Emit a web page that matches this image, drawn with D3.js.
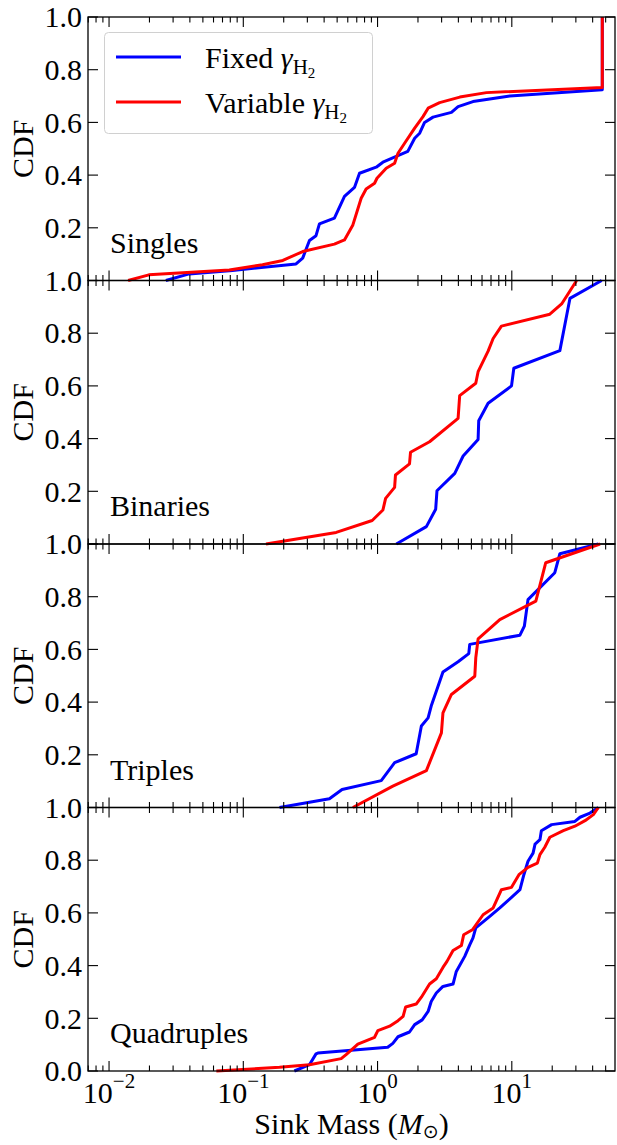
<!DOCTYPE html>
<html>
<head>
<meta charset="utf-8">
<script src="https://cdn.jsdelivr.net/npm/d3@7"></script>
<style>
  body { margin: 0; background: #fff; }
  text { font-family: "Liberation Serif", "Times New Roman", serif; fill: #000; }
</style>
</head>
<body>
<div id="chart"></div>
<script>
// panel names
const panelNames = ["Singles", "Binaries", "Triples", "Quadruples"];

// [sink mass (Msun), CDF]
const singlesFixed = [[0.0265,0],[0.0395,0.025],[0.083,0.038],[0.247,0.063],[0.277,0.085],[0.311,0.152],[0.348,0.17],[0.369,0.215],[0.477,0.237],[0.567,0.319],[0.673,0.353],[0.734,0.407],[0.977,0.43],[1.096,0.449],[1.68,0.49],[1.89,0.54],[2.06,0.559],[2.24,0.6],[2.59,0.62],[3.55,0.638],[3.98,0.66],[5.14,0.679],[9.66,0.70],[47.2,0.724],[47.2,1.0]];
const singlesVar = [[0.01387,0],[0.0198,0.0215],[0.0787,0.04],[0.139,0.06],[0.197,0.076],[0.277,0.11],[0.477,0.138],[0.567,0.154],[0.655,0.211],[0.755,0.312],[0.822,0.347],[0.95,0.369],[0.99,0.388],[1.16,0.426],[1.34,0.445],[1.42,0.483],[1.59,0.521],[1.89,0.578],[2.18,0.622],[2.38,0.654],[2.9,0.675],[4.1,0.696],[6.47,0.713],[47.2,0.732],[47.2,1.0]];

const binariesFixed = [[1.38,0],[2.31,0.066],[2.71,0.132],[2.77,0.202],[3.76,0.268],[4.34,0.334],[5.61,0.397],[5.67,0.468],[6.66,0.534],[9.95,0.6],[10.35,0.667],[22.8,0.734],[27.1,0.932],[46.7,1.0]];
const binariesVar = [[0.1476,0],[0.492,0.044],[0.912,0.089],[1.096,0.129],[1.148,0.173],[1.34,0.215],[1.36,0.262],[1.73,0.304],[1.76,0.348],[2.44,0.388],[3.98,0.477],[4.09,0.563],[5.39,0.61],[5.61,0.654],[6.66,0.732],[7.26,0.78],[8.37,0.827],[19.2,0.872],[23.5,0.911],[30.4,1.0]];

const triplesFixed = [[0.186,0],[0.438,0.033],[0.544,0.068],[1.065,0.102],[1.34,0.17],[1.94,0.204],[2.12,0.309],[2.38,0.34],[2.51,0.385],[3.07,0.514],[3.98,0.553],[4.78,0.584],[4.86,0.619],[11.5,0.654],[12.4,0.688],[13.2,0.789],[20.9,0.891],[22.8,0.963],[44.1,1.0]];
const triplesVar = [[0.655,0],[1.30,0.081],[2.31,0.14],[2.99,0.283],[3.07,0.359],[3.55,0.429],[5.3,0.498],[5.39,0.568],[5.61,0.64],[8.14,0.713],[15.1,0.783],[17.9,0.929],[45.4,1.0]];

const quadsFixed = [[0.24,0],[0.311,0.024],[0.348,0.065],[0.359,0.068],[1.19,0.09],[1.30,0.105],[1.42,0.13],[1.73,0.148],[1.89,0.176],[2.15,0.194],[2.38,0.226],[2.51,0.264],[2.74,0.296],[3.07,0.321],[3.65,0.33],[3.86,0.378],[4.46,0.435],[4.86,0.479],[5.14,0.505],[5.39,0.543],[6.85,0.587],[8.14,0.619],[9.95,0.659],[11.5,0.688],[12.3,0.745],[13.2,0.796],[14.4,0.827],[14.9,0.861],[16.2,0.878],[16.6,0.912],[19.8,0.935],[29.5,0.947],[32.2,0.963],[38.2,0.979],[44.1,1.0]];
const quadsVar = [[0.063,0],[0.186,0.014],[0.311,0.024],[0.536,0.047],[0.583,0.062],[0.655,0.085],[0.713,0.102],[0.95,0.128],[1.005,0.153],[1.23,0.17],[1.42,0.191],[1.55,0.207],[1.62,0.243],[1.94,0.254],[2.12,0.28],[2.44,0.33],[2.74,0.35],[3.07,0.393],[3.29,0.416],[3.65,0.457],[4.21,0.476],[4.38,0.517],[5.09,0.536],[6.11,0.593],[7.26,0.619],[8.37,0.688],[9.95,0.697],[11.3,0.745],[13.2,0.773],[15.5,0.789],[16.2,0.821],[17.6,0.849],[19.2,0.887],[24.2,0.912],[29.5,0.929],[35.1,0.95],[40.5,0.973],[44.1,1.0]];

const fixedSeries = [singlesFixed, binariesFixed, triplesFixed, quadsFixed];
const varSeries = [singlesVar, binariesVar, triplesVar, quadsVar];

const xTickValues = [0.01, 0.1, 1, 10];
const xTickExps = ["\u22122", "\u22121", "0", "1"];
const yTickValues = [0, 0.2, 0.4, 0.6, 0.8, 1.0];

const width = 617, height = 1145;
const left = 88, right = 615, top0 = 17, panelH = 263.5;
const fixedColor = "#0000ff", varColor = "#ff0000";

const svg = d3.select("#chart").append("svg")
  .attr("width", width).attr("height", height);

const x = d3.scaleLog().domain([0.00697, 58.7]).range([left, right]);

// minor ticks for log axis
const minor = [];
for (let e = -3; e <= 1; e++) {
  for (let k = 2; k <= 9; k++) {
    const v = k * Math.pow(10, e);
    if (v >= x.domain()[0] && v <= x.domain()[1]) minor.push(v);
  }
}

const line = d3.line();

panelNames.forEach((name, i) => {
  const t = top0 + i * panelH, b = t + panelH;
  const y = d3.scaleLinear().domain([0, 1]).range([b, t]);
  const g = svg.append("g");

  line.x(d => x(d[0])).y(d => y(d[1]));

  g.append("path").datum(fixedSeries[i])
    .attr("d", line).attr("fill", "none")
    .attr("stroke", fixedColor).attr("stroke-width", 3).attr("stroke-linejoin", "round");
  g.append("path").datum(varSeries[i])
    .attr("d", line).attr("fill", "none")
    .attr("stroke", varColor).attr("stroke-width", 3).attr("stroke-linejoin", "round");

  // frame
  g.append("rect").attr("x", left).attr("y", t)
    .attr("width", right - left).attr("height", panelH)
    .attr("fill", "none").attr("stroke", "#000").attr("stroke-width", 1.3);

  const ticks = g.append("g").attr("stroke", "#000").attr("stroke-width", 1.1);
  // x ticks, inward on bottom and top
  [[xTickValues, 10], [minor, 5.5]].forEach(([vals, len]) => {
    ticks.selectAll(null).data(vals).join("line")
      .attr("x1", d => x(d)).attr("x2", d => x(d))
      .attr("y1", b).attr("y2", b - len);
    ticks.selectAll(null).data(vals).join("line")
      .attr("x1", d => x(d)).attr("x2", d => x(d))
      .attr("y1", t).attr("y2", t + len);
  });
  // y ticks, inward on left and right
  ticks.selectAll(null).data(yTickValues).join("line")
    .attr("x1", left).attr("x2", left + 10)
    .attr("y1", d => y(d)).attr("y2", d => y(d));
  ticks.selectAll(null).data(yTickValues).join("line")
    .attr("x1", right).attr("x2", right - 10)
    .attr("y1", d => y(d)).attr("y2", d => y(d));

  // y tick labels (0.0 only on the last panel)
  const labVals = i === panelNames.length - 1 ? yTickValues : yTickValues.slice(1);
  g.selectAll(null).data(labVals).join("text")
    .attr("x", left - 6).attr("y", d => y(d)).attr("dy", "0.34em")
    .attr("text-anchor", "end").attr("font-size", 30)
    .text(d => d.toFixed(1));

  g.append("text")
    .attr("transform", `translate(33,${(t + b) / 2}) rotate(-90)`)
    .attr("text-anchor", "middle").attr("font-size", 30)
    .text("CDF");

  g.append("text")
    .attr("x", 110).attr("y", b - 28).attr("font-size", 30)
    .text(name);
});

// x tick labels on bottom panel
const xl = svg.append("g");
xTickValues.forEach((v, i) => {
  const tx = xl.append("text")
    .attr("x", x(v)).attr("y", 1103)
    .attr("text-anchor", "middle").attr("font-size", 30);
  tx.append("tspan").text("10");
  tx.append("tspan").attr("font-size", 21).attr("dy", -15).text(xTickExps[i]);
});

// x axis label
const xlab = svg.append("text")
  .attr("x", (left + right) / 2).attr("y", 1134)
  .attr("text-anchor", "middle").attr("font-size", 30);
xlab.append("tspan").text("Sink Mass (");
xlab.append("tspan").attr("font-style", "italic").text("M");
xlab.append("tspan").attr("font-size", 19).attr("dy", 4)
  .attr("font-family", "DejaVu Sans").text("\u2299");
xlab.append("tspan").attr("dy", -4).text(")");

// legend
const leg = svg.append("g");
leg.append("rect")
  .attr("x", 104.5).attr("y", 32.5).attr("width", 268).attr("height", 101)
  .attr("rx", 4).attr("fill", "#fff").attr("fill-opacity", 0.8)
  .attr("stroke", "#d0d0d0").attr("stroke-width", 1);
[["Fixed", fixedColor, 57], ["Variable", varColor, 102]].forEach(([lab, col, ly]) => {
  leg.append("line").attr("x1", 116).attr("x2", 181)
    .attr("y1", ly).attr("y2", ly)
    .attr("stroke", col).attr("stroke-width", 3);
  const tx = leg.append("text").attr("x", 205).attr("y", ly + 11).attr("font-size", 30);
  tx.append("tspan").text(lab + " ");
  tx.append("tspan").attr("font-style", "italic").text("\u03b3");
  tx.append("tspan").attr("font-size", 21).attr("dy", 6).text("H");
  tx.append("tspan").attr("font-size", 15).attr("dy", 4).text("2");
});
</script>
</body>
</html>
